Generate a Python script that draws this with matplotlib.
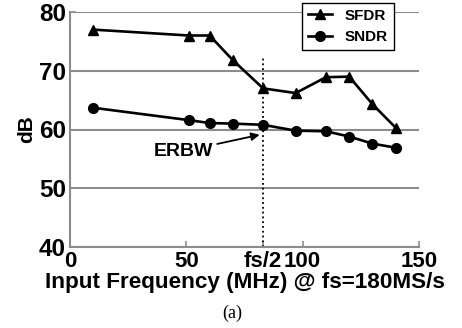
import numpy as np
from matplotlib import pyplot as plt

# datos
freq = [10, 51, 60, 70, 83, 97, 110, 120, 130, 140]
sfdr = [77.0, 76.0, 76.0, 71.8, 67.0, 66.2, 68.9, 69.0, 64.3, 60.3]
sndr = [63.7, 61.6, 61.1, 61.0, 60.8, 59.8, 59.7, 58.8, 57.6, 56.9]

xticks = [0, 50, 83, 100, 150]
xticklabels = ["0", "50", "fs/2", "100", "150"]
yticks = [40, 50, 60, 70, 80]

fs2 = 83          # linea punteada fs/2
fs2_top = 72.2
erbw_text = (61.5, 56.3)
erbw_point = (81.5, 59.1)

plt.rcParams['font.family'] = ['Liberation Sans', 'DejaVu Sans']
plt.rcParams['font.weight'] = 'bold'

fig = plt.figure(figsize=(4.62, 3.28), dpi=100)
ax = fig.add_axes([70/462, 1-247/328, 349/462, 235/328])

gris = "#8c8c8c"
ax.set_axisbelow(True)
ax.grid(axis="y", color=gris, lw=1.5)
for s in ["top", "right"]:
    ax.spines[s].set_visible(False)
for s in ["left", "bottom"]:
    ax.spines[s].set_color(gris)
    ax.spines[s].set_linewidth(1.5)

ax.plot(freq, sfdr, "k-^", lw=1.9, ms=7, label="SFDR", zorder=3)
ax.plot(freq, sndr, "k-o", lw=1.9, ms=7, label="SNDR", zorder=3)

ax.plot([fs2, fs2], [40, fs2_top], "k:", lw=1.3, zorder=2)

ax.annotate("ERBW", xy=erbw_point, xytext=erbw_text, ha="right", va="center",
            fontsize=14, fontweight="bold",
            arrowprops=dict(arrowstyle="-|>", color="k", lw=1.3,
                            shrinkA=1, shrinkB=0, mutation_scale=12))

ax.set_xlim(0, 150)
ax.set_ylim(40, 80)
ax.set_xticks(xticks)
ax.set_xticklabels(xticklabels)
ax.set_yticks(yticks)
ax.tick_params(axis="both", direction="in", color=gris, width=1.2, length=4)
ax.tick_params(axis="x", labelsize=16, pad=3)
ax.tick_params(axis="y", labelsize=17.5, pad=3)

ax.set_xlabel("Input Frequency (MHz) @ fs=180MS/s", fontsize=16.2,
              fontweight="bold", labelpad=0)
ax.set_ylabel("dB", fontsize=15, fontweight="bold", labelpad=2)

leg = ax.legend(loc="upper right", bbox_to_anchor=(0.928, 1.04),
                borderaxespad=0, fancybox=False, framealpha=1, edgecolor="k",
                fontsize=11, handlelength=1.6, borderpad=0.4, labelspacing=0.5)
leg.get_frame().set_linewidth(1.0)

fig.text(0.503, 1-313/328, "(a)", family="Liberation Serif",
         fontweight="normal", fontsize=13, ha="center", va="center")

fig.savefig("out.png", dpi=100)
